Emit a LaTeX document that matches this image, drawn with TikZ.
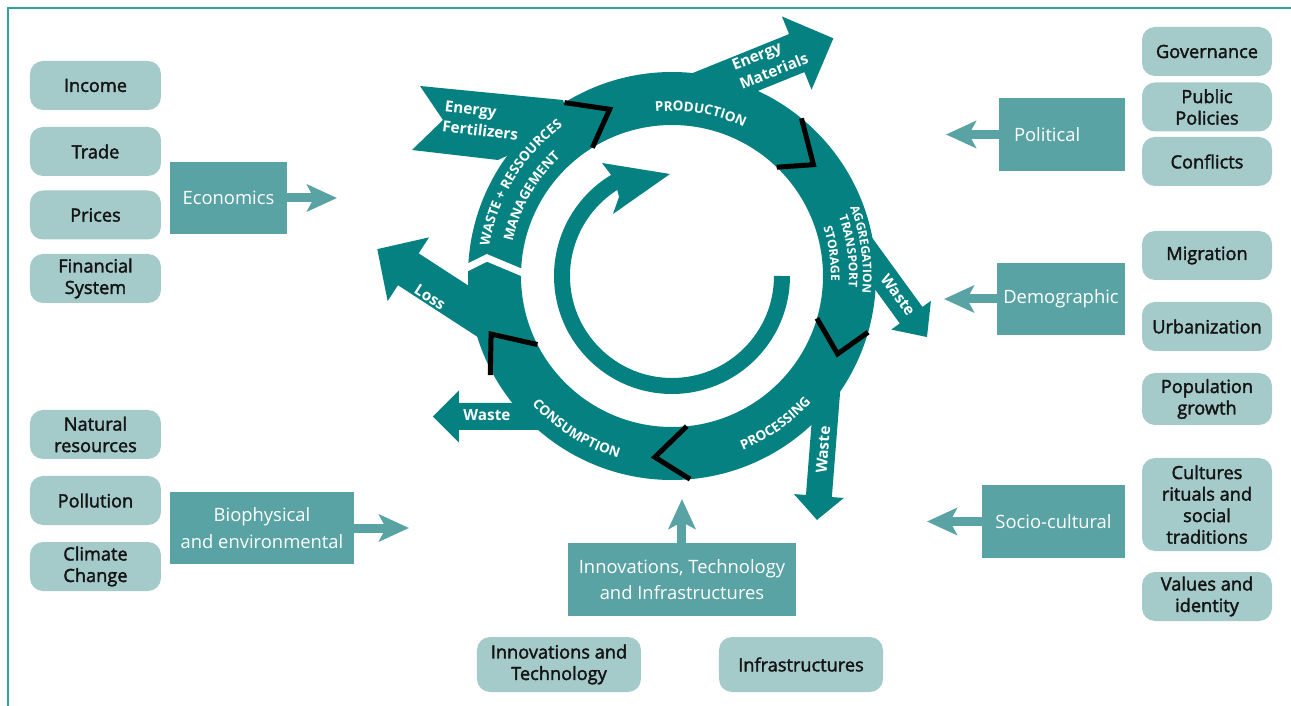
\documentclass[tikz,border=0pt]{standalone}
\usepackage{fontspec}
\setmainfont{Open Sans}
\newfontfamily\factorfont{Open Sans}[FakeBold=2]
\usetikzlibrary{arrows.meta, positioning, decorations.text}

\definecolor{wheelteal}{RGB}{4, 129, 128}
\definecolor{groupteal}{RGB}{89, 163, 164}
\definecolor{factorteal}{RGB}{165, 202, 202}
\definecolor{frameteal}{RGB}{46, 160, 160}
\definecolor{factortext}{RGB}{20, 20, 20}

\newcommand{\ringfont}{\bfseries\fontsize{13.5}{13.5}\selectfont}
\newcommand{\smallringfont}{\bfseries\fontsize{12}{12}\selectfont}

% fat arrow of the wheel: start, angle, length, half shaft, half head, head length
\newcommand{\flowarrow}[6]{%
  \fill[wheelteal, shift={#1}, rotate=#2] (0,-#4) -- ({#3-#6},-#4) -- ({#3-#6},-#5) -- (#3,0)
    -- ({#3-#6},#5) -- ({#3-#6},#4) -- (0,#4) -- cycle;}

\tikzset{
  factorbox/.style={fill=factorteal, rounded corners=13pt, minimum width=131pt, minimum height=49pt,
    align=center, text=factortext, inner sep=2pt, font=\factorfont\fontsize{18.2}{21.5}\selectfont},
  groupbox/.style={fill=groupteal, align=center, text=white, inner sep=2pt,
    font=\fontsize{18.4}{26.5}\selectfont},
  pull/.style={groupteal, line width=9pt, -{Stealth[length=30pt, width=27pt, inset=7pt]}},
  flowlabel/.style={text=white, inner sep=0pt, font=\bfseries\fontsize{15.3}{20.5}\selectfont},
  chevron/.style={black, line width=5pt, line join=miter},
  ringtext/.style={decorate, decoration={text along path, text align=center, text color=white, text={|\ringfont|#1}}},
  smallringtext/.style={decorate, decoration={text along path, text align=center, text color=white, text={|\smallringfont|#1}}},
}

\begin{document}
\begin{tikzpicture}[x=1pt, y=1pt]
  \useasboundingbox (-672,-430) rectangle (619,276);
  \draw[frameteal, line width=2pt] (-664,-440) -- (-664,268) -- (630,268);

  % Economics
  \node[factorbox] (income) at (-576.5,190.5) {Income};
  \node[factorbox] (trade) at (-576.5,124.5) {Trade};
  \node[factorbox] (prices) at (-576.5,61) {Prices};
  \node[factorbox] (finance) at (-576.5,-2.5) {Financial\\System};
  \node[groupbox, minimum width=117pt, minimum height=72pt] (econ) at (-443.5,78) {Economics};
  \coordinate (econtip) at (-335,78);
  \draw[pull] (econ.east) -- (econtip);

  % Biophysical
  \node[factorbox] (natural) at (-576.5,-158.5) {Natural\\resources};
  \node[factorbox] (pollution) at (-576.5,-224.5) {Pollution};
  \node[factorbox] (climate) at (-576.5,-290.5) {Climate\\Change};
  \node[groupbox, minimum width=184pt, minimum height=72pt] (bio) at (-410,-252) {Biophysical\\and environmental};
  \coordinate (biotip) at (-263,-252);
  \draw[pull] (bio.east) -- (biotip);

  % Political
  \node[factorbox, minimum width=130pt] (governance) at (535,224.5) {Governance};
  \node[factorbox, minimum width=130pt] (policies) at (535,169) {Public\\Policies};
  \node[factorbox, minimum width=130pt] (conflicts) at (535,114.5) {Conflicts};
  \node[groupbox, minimum height=73pt, text width=96pt, align=left, inner xsep=15pt] (political) at (390,141.5) {Political};
  \coordinate (poltip) at (274,141.5);
  \draw[pull] (political.west) -- (poltip);

  % Demographic
  \node[factorbox, minimum width=130pt] (migration) at (535,20.5) {Migration};
  \node[factorbox, minimum width=130pt] (urban) at (535,-50.5) {Urbanization};
  \node[factorbox, minimum width=130pt, minimum height=52pt] (popgrowth) at (535,-123) {Population\\growth};
  \node[groupbox, minimum width=128pt, minimum height=72pt] (demo) at (389,-23) {Demographic};
  \coordinate (demotip) at (272,-23);
  \draw[pull] (demo.west) -- (demotip);

  % Socio-cultural
  \node[factorbox, minimum width=130pt, minimum height=93pt] (cultures) at (535,-228.5) {Cultures\\rituals and\\social\\traditions};
  \node[factorbox, minimum width=130pt] (values) at (535,-320.5) {Values and\\identity};
  \node[groupbox, minimum width=143pt, minimum height=73pt] (socio) at (381.5,-245.5) {Socio-cultural};
  \coordinate (sociotip) at (255,-245.5);
  \draw[pull] (socio.west) -- (sociotip);

  % Innovations
  \node[groupbox, minimum width=228pt, minimum height=73pt] (innov) at (10,-303.5) {Innovations, Technology\\and Infrastructures};
  \node[factorbox, minimum width=164pt, minimum height=55pt] (innotech) at (-113,-388.5) {Innovations and\\Technology};
  \node[factorbox, minimum width=164pt, minimum height=55pt] (infra) at (129,-388.5) {Infrastructures};
  \coordinate (innovtip) at (10,-223);
  \draw[pull] (innov.north) -- (innovtip);

  % flows in and out of the wheel
  \fill[wheelteal] (-252,190) -- (-109,176) -- (-100,150) -- (-174,116) -- (-260,126) -- (-229,156) -- cycle;
  \flowarrow{(22.3,181.5)}{22}{150}{20.5}{39.5}{39.5}
  \flowarrow{(-184,-45)}{147}{132}{19}{38}{37}
  \flowarrow{(187.4,32)}{-54}{115}{14}{24.5}{27}
  \flowarrow{(156,-104.4)}{-94.5}{140}{13}{25}{24}
  \flowarrow{(-112,-140.5)}{180}{127}{13.5}{26}{26}

  % the wheel
  \fill[wheelteal, even odd rule] (0,0) circle (204) (0,0) circle (151);
  \draw[chevron] (121.8:204) -- (110.5:178) -- (121.8:151);
  \draw[chevron] (50.6:204) -- (38.2:180) -- (46.1:151);
  \draw[chevron] (-16.3:151) -- (-25.2:183) -- (-16:204);
  \draw[chevron] (-84.4:151) -- (-95.4:182) -- (-84.9:204);
  \draw[chevron] (-153:151) -- (-162.2:190) -- (-151.4:207);
  \draw[white, line width=7pt, line join=miter] (179:214) -- (174.4:186) -- (179:148);

  % inner cycle arrow
  \draw[wheelteal, line width=16pt] (0:110) arc[start angle=0, end angle=-240, radius=110];
  \fill[wheelteal] (-70,113) -- (-2,102) -- (-59,62) -- (-53,79) -- (-57,96) -- cycle;

  % stage names
  \path[ringtext=PRODUCTION] (110:165) arc[start angle=110, end angle=50, radius=165];
  \path[smallringtext=AGGREGATION] (30:191) arc[start angle=30, end angle=-14, radius=191];
  \path[smallringtext=TRANSPORT] (30:177) arc[start angle=30, end angle=-14, radius=177];
  \path[smallringtext=STORAGE] (30:159) arc[start angle=30, end angle=-14, radius=159];
  \path[ringtext=PROCESSING] (-85:188) arc[start angle=-85, end angle=-25, radius=188];
  \path[ringtext=CONSUMPTION] (208:190) arc[start angle=208, end angle=268, radius=190];
  \path[ringtext={WASTE + RESSOURCES}] (178:185) arc[start angle=178, end angle=119, radius=185];
  \path[ringtext=MANAGEMENT] (180:163) arc[start angle=180, end angle=121, radius=163];

  % flow labels
  \node[flowlabel, rotate=22, align=left] (matlabel) at (98,214.5) {Energy\\Materials};
  \node[flowlabel, rotate=-7, align=left] (fertlabel) at (-190.5,155.5) {Energy\\Fertilizers};
  \node[flowlabel, rotate=-33] (losslabel) at (-242,-21) {Loss};
  \node[flowlabel, rotate=-54] (wasteagg) at (226,-19) {Waste};
  \node[flowlabel, rotate=85.5] (wasteproc) at (151,-174) {Waste};
  \node[flowlabel] (wastecons) at (-185,-139) {Waste};
\end{tikzpicture}
\end{document}
